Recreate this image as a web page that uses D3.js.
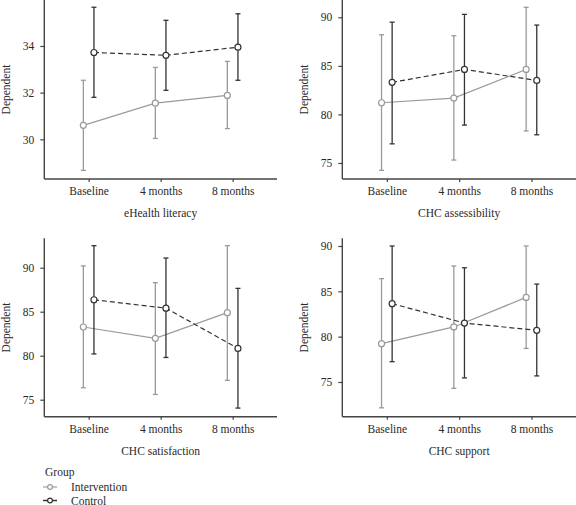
<!DOCTYPE html>
<html><head><meta charset="utf-8">
<script src="https://cdn.jsdelivr.net/npm/d3@7"></script>
<style>body{margin:0;background:#fff}svg{display:block}svg text{font-family:"Liberation Serif","Times New Roman",serif !important;fill:#2a2a2a}</style>
</head><body><svg id="c" width="576" height="505"></svg>
<script>
const timepoints = ["Baseline", "4 months", "8 months"];
const groups = ["Intervention", "Control"];
const panelTitles = ["eHealth literacy", "CHC assessibility", "CHC satisfaction", "CHC support"];
const yTicks = [[30, 32, 34], [75, 80, 85, 90], [75, 80, 85, 90], [75, 80, 85, 90]];
const yDomains = [[28.3, 35.97], [73.35, 91.78], [73.07, 93.34], [71.17, 90.85]];
// means
const interventionMean = [[30.6, 31.55, 31.88], [81.2, 81.68, 84.63], [83.26, 81.97, 84.89], [79.23, 81.07, 84.33]];
const controlMean = [[33.72, 33.6, 33.95], [83.3, 84.63, 83.5], [86.36, 85.4, 80.83], [83.64, 81.5, 80.7]];
// error bar low / high
const interventionLow = [[28.67, 30.04, 30.46], [74.24, 75.3, 78.3], [76.36, 75.6, 77.2], [72.15, 74.3, 78.7]];
const interventionHigh = [[32.53, 33.08, 33.34], [88.2, 88.1, 91.03], [90.2, 88.3, 92.5], [86.4, 87.8, 90.0]];
const controlLow = [[31.8, 32.1, 32.53], [76.97, 78.9, 77.9], [80.2, 79.8, 74.05], [77.24, 75.45, 75.67]];
const controlHigh = [[35.66, 35.1, 35.38], [89.5, 90.3, 89.2], [92.5, 91.1, 87.65], [90.0, 87.6, 85.8]];

const svg = d3.select("#c");
const FONT = '"Liberation Serif","Times New Roman",serif';
const panels = [
  {x0: 44.3, x1: 277, y0: 0, y1: 179},
  {x0: 342.3, x1: 576, y0: 0, y1: 179},
  {x0: 44.3, x1: 277, y0: 238.3, y1: 416.7},
  {x0: 342.3, x1: 576, y0: 238.3, y1: 416.7}
];
const styles = {
  Intervention: {color: "#9a9a9a", dash: null, dx: -5.3, mean: interventionMean, lo: interventionLow, hi: interventionHigh},
  Control: {color: "#333333", dash: "5,3", dx: 5.3, mean: controlMean, lo: controlLow, hi: controlHigh}
};
const axisColor = "#444";

panels.forEach((p, i) => {
  const g = svg.append("g");
  const x = d3.scalePoint().domain(timepoints).range([p.x0, p.x1]).padding(0.616);
  const y = d3.scaleLinear().domain(yDomains[i]).range([p.y1, p.y0]);

  const xa = g.append("g").attr("transform", `translate(0,${p.y1})`)
    .call(d3.axisBottom(x).tickSize(3).tickPadding(5));
  const ya = g.append("g").attr("transform", `translate(${p.x0},0)`)
    .call(d3.axisLeft(y).tickValues(yTicks[i]).tickSize(4).tickPadding(6));
  [xa, ya].forEach(a => {
    a.attr("font-family", FONT).attr("font-size", 11.5);
    a.select(".domain").attr("stroke", axisColor).attr("stroke-width", 1.4);
    a.selectAll(".tick line").attr("stroke", axisColor).attr("stroke-width", 1.2);
    a.selectAll("text").attr("fill", "#2a2a2a");
  });
  xa.select(".domain").attr("d", `M${p.x0},0H${p.x1}`);
  ya.select(".domain").attr("d", `M0,${p.y1}V${p.y0}`);

  g.append("text").attr("x", (p.x0 + p.x1) / 2).attr("y", p.y1 + 38)
    .attr("text-anchor", "middle").style("font-size", "11.5px").text(panelTitles[i]);
  g.append("text").attr("transform", `translate(${p.x0 - 34},${(p.y0 + p.y1) / 2}) rotate(-90)`)
    .attr("text-anchor", "middle").style("font-size", "11.5px").text("Dependent");

  groups.forEach(gr => {
    const s = styles[gr];
    const pts = timepoints.map((t, j) => ({t, m: s.mean[i][j], lo: s.lo[i][j], hi: s.hi[i][j]}));
    const cx = d => x(d.t) + s.dx;
    const eb = g.append("g").attr("stroke", s.color).attr("stroke-width", 1.3).attr("fill", "none");
    eb.selectAll("line.v").data(pts).join("line").attr("class", "v")
      .attr("x1", cx).attr("x2", cx).attr("y1", d => y(d.lo)).attr("y2", d => y(d.hi));
    eb.selectAll("line.l").data(pts).join("line").attr("class", "l")
      .attr("x1", d => cx(d) - 2.5).attr("x2", d => cx(d) + 2.5).attr("y1", d => y(d.lo)).attr("y2", d => y(d.lo));
    eb.selectAll("line.h").data(pts).join("line").attr("class", "h")
      .attr("x1", d => cx(d) - 2.5).attr("x2", d => cx(d) + 2.5).attr("y1", d => y(d.hi)).attr("y2", d => y(d.hi));
    g.append("path").datum(pts).attr("fill", "none").attr("stroke", s.color).attr("stroke-width", 1.2)
      .attr("stroke-dasharray", s.dash)
      .attr("d", d3.line().x(cx).y(d => y(d.m)));
    g.selectAll(null).data(pts).join("circle").attr("cx", cx).attr("cy", d => y(d.m)).attr("r", 3)
      .attr("fill", "#fff").attr("stroke", s.color).attr("stroke-width", 1.2);
  });
});

const lg = svg.append("g");
lg.append("text").attr("x", 45).attr("y", 476).style("font-size", "11.5px").text("Group");
groups.forEach((gr, k) => {
  const s = styles[gr];
  const yy = 487 + k * 13.5;
  lg.append("line").attr("x1", 43).attr("x2", 57).attr("y1", yy).attr("y2", yy)
    .attr("stroke", s.color).attr("stroke-width", gr === "Control" ? 1.5 : 1.1);
  lg.append("circle").attr("cx", 50).attr("cy", yy).attr("r", 2.4).attr("fill", "#fff")
    .attr("stroke", s.color).attr("stroke-width", 1.2);
  lg.append("text").attr("x", 71).attr("y", yy + 4).style("font-size", "11.5px").text(gr);
});
</script></body></html>
